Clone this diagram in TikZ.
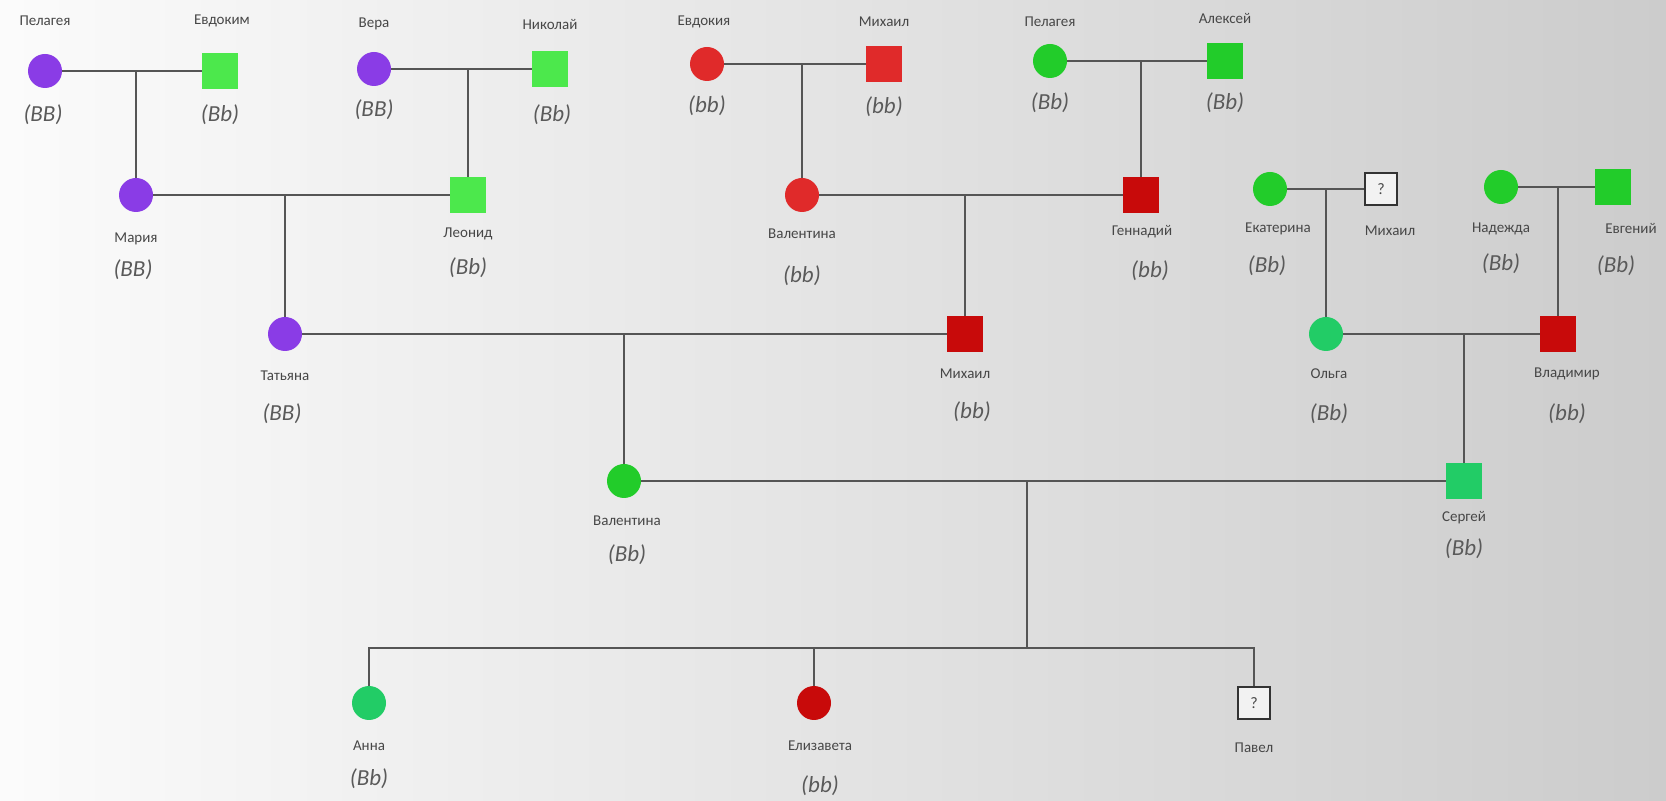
\documentclass[tikz,border=0pt]{standalone}
\usepackage{fontspec}
\setmainfont{Carlito}
\definecolor{violetp}{HTML}{8A3CE6}
\definecolor{lgreen}{HTML}{4CE84C}
\definecolor{mgreen}{HTML}{22CC2A}
\definecolor{sgreen}{HTML}{22CC66}
\definecolor{lred}{HTML}{E02A2A}
\definecolor{dred}{HTML}{C80A0A}
\definecolor{linegray}{HTML}{555555}
\definecolor{txtgray}{HTML}{474747}
\begin{document}
\begin{tikzpicture}[x=0.5pt, y=-0.5pt,
    fem/.style={circle, minimum size=17pt, inner sep=0pt},
    male/.style={rectangle, minimum size=18pt, inner sep=0pt},
    unk/.style={rectangle, draw=black!80, line width=0.6pt, fill=white!90!gray, minimum size=16pt, inner sep=0pt, font=\fontsize{8}{8}\selectfont, text=txtgray},
    lbl/.style={font=\fontsize{7.5}{8}\selectfont, text=txtgray, inner sep=0pt},
    geno/.style={font=\fontsize{11.5}{12}\selectfont\itshape, text=txtgray!90, inner sep=0pt},
    kin/.style={draw=linegray, line width=0.9pt}]
    \useasboundingbox (0,0) rectangle (1666,801);
    \shade[left color=gray!3, right color=gray!40] (0,0) rectangle (1666,801);
    % generation 1
    \node[fem, fill=violetp] (pel1) at (45,71) {};
    \node[male, fill=lgreen] (evdokim) at (220,71) {};
    \node[fem, fill=violetp] (vera) at (374,69) {};
    \node[male, fill=lgreen] (nikolaj) at (550,69) {};
    \node[fem, fill=lred] (evdokiya) at (707,64) {};
    \node[male, fill=lred] (mih1) at (884,64) {};
    \node[fem, fill=mgreen] (pel2) at (1050,61) {};
    \node[male, fill=mgreen] (aleksej) at (1225,61) {};
    \node[lbl] (n-pel1) at (45,21) {Пелагея};
    \node[lbl] (n-evdokim) at (222,21) {Евдоким};
    \node[lbl] (n-vera) at (374,24) {Вера};
    \node[lbl] (n-nikolaj) at (550,24) {Николай};
    \node[lbl] (n-evdokiya) at (704,22) {Евдокия};
    \node[lbl] (n-mih1) at (884,22) {Михаил};
    \node[lbl] (n-pel2) at (1050,22) {Пелагея};
    \node[lbl] (n-aleksej) at (1225,18) {Алексей};
    \node[geno] (g-pel1) at (43,115) {(BB)};
    \node[geno] (g-evdokim) at (220,115) {(Bb)};
    \node[geno] (g-vera) at (374,110) {(BB)};
    \node[geno] (g-nikolaj) at (552,115) {(Bb)};
    \node[geno] (g-evdokiya) at (707,106) {(bb)};
    \node[geno] (g-mih1) at (884,107) {(bb)};
    \node[geno] (g-pel2) at (1050,103) {(Bb)};
    \node[geno] (g-aleksej) at (1225,103) {(Bb)};
    % generation 2
    \node[fem, fill=violetp] (mariya) at (136,195) {};
    \node[male, fill=lgreen] (leonid) at (468,195) {};
    \node[fem, fill=lred] (val1) at (802,195) {};
    \node[male, fill=dred] (gennadij) at (1141,195) {};
    \node[fem, fill=mgreen] (ekaterina) at (1270,189) {};
    \node[unk] (mih2) at (1381,189) {?};
    \node[fem, fill=mgreen] (nadezhda) at (1501,187) {};
    \node[male, fill=mgreen] (evgenij) at (1613,187) {};
    \node[lbl] (n-mariya) at (136,239) {Мария};
    \node[lbl] (n-leonid) at (468,234) {Леонид};
    \node[lbl] (n-val1) at (802,234) {Валентина};
    \node[lbl] (n-gennadij) at (1142,232) {Геннадий};
    \node[lbl] (n-ekaterina) at (1278,229) {Екатерина};
    \node[lbl] (n-mih2) at (1390,231) {Михаил};
    \node[lbl] (n-nadezhda) at (1501,229) {Надежда};
    \node[lbl] (n-evgenij) at (1631,228) {Евгений};
    \node[geno] (g-mariya) at (133,270) {(BB)};
    \node[geno] (g-leonid) at (468,268) {(Bb)};
    \node[geno] (g-val1) at (802,276) {(bb)};
    \node[geno] (g-gennadij) at (1150,271) {(bb)};
    \node[geno] (g-ekaterina) at (1267,266) {(Bb)};
    \node[geno] (g-nadezhda) at (1501,264) {(Bb)};
    \node[geno] (g-evgenij) at (1616,266) {(Bb)};
    % generation 3
    \node[fem, fill=violetp] (tatyana) at (285,334) {};
    \node[male, fill=dred] (mih3) at (965,334) {};
    \node[fem, fill=sgreen] (olga) at (1326,334) {};
    \node[male, fill=dred] (vladimir) at (1558,334) {};
    \node[lbl] (n-tatyana) at (285,376) {Татьяна};
    \node[lbl] (n-mih3) at (965,374) {Михаил};
    \node[lbl] (n-olga) at (1329,374) {Ольга};
    \node[lbl] (n-vladimir) at (1567,374) {Владимир};
    \node[geno] (g-tatyana) at (282,414) {(BB)};
    \node[geno] (g-mih3) at (972,412) {(bb)};
    \node[geno] (g-olga) at (1329,414) {(Bb)};
    \node[geno] (g-vladimir) at (1567,414) {(bb)};
    % generation 4
    \node[fem, fill=mgreen] (val2) at (624,481) {};
    \node[male, fill=sgreen] (sergej) at (1464,481) {};
    \node[lbl] (n-val2) at (627,521) {Валентина};
    \node[lbl] (n-sergej) at (1464,518) {Сергей};
    \node[geno] (g-val2) at (627,555) {(Bb)};
    \node[geno] (g-sergej) at (1464,549) {(Bb)};
    % generation 5
    \node[fem, fill=sgreen] (anna) at (369,703) {};
    \node[fem, fill=dred] (elizaveta) at (814,703) {};
    \node[unk] (pavel) at (1254,703) {?};
    \node[lbl] (n-anna) at (369,746) {Анна};
    \node[lbl] (n-elizaveta) at (820,746) {Елизавета};
    \node[lbl] (n-pavel) at (1254,748) {Павел};
    \node[geno] (g-anna) at (369,779) {(Bb)};
    \node[geno] (g-elizaveta) at (820,786) {(bb)};
    % marriages and descent
    \coordinate (c1) at (136,71);
    \coordinate (c2) at (468,69);
    \coordinate (c3) at (802,64);
    \coordinate (c4) at (1141,61);
    \coordinate (c5) at (285,195);
    \coordinate (c6) at (965,195);
    \coordinate (c7) at (1326,189);
    \coordinate (c8) at (1558,187);
    \coordinate (c9) at (624,334);
    \coordinate (c10) at (1464,334);
    \coordinate (c11) at (1027,481);
    \coordinate (sib) at (1027,648);
    \draw[kin] (pel1) -- (evdokim);
    \draw[kin] (vera) -- (nikolaj);
    \draw[kin] (evdokiya) -- (mih1);
    \draw[kin] (pel2) -- (aleksej);
    \draw[kin] (mariya) -- (leonid);
    \draw[kin] (val1) -- (gennadij);
    \draw[kin] (ekaterina) -- (mih2);
    \draw[kin] (nadezhda) -- (evgenij);
    \draw[kin] (tatyana) -- (mih3);
    \draw[kin] (olga) -- (vladimir);
    \draw[kin] (val2) -- (sergej);
    \draw[kin] (c1) -- (mariya);
    \draw[kin] (c2) -- (leonid);
    \draw[kin] (c3) -- (val1);
    \draw[kin] (c4) -- (gennadij);
    \draw[kin] (c5) -- (tatyana);
    \draw[kin] (c6) -- (mih3);
    \draw[kin] (c7) -- (olga);
    \draw[kin] (c8) -- (vladimir);
    \draw[kin] (c9) -- (val2);
    \draw[kin] (c10) -- (sergej);
    \draw[kin] (c11) -- (sib);
    \draw[kin] (anna) -- (anna |- sib) -- (pavel |- sib) -- (pavel);
    \draw[kin] (elizaveta) -- (elizaveta |- sib);
\end{tikzpicture}
\end{document}
